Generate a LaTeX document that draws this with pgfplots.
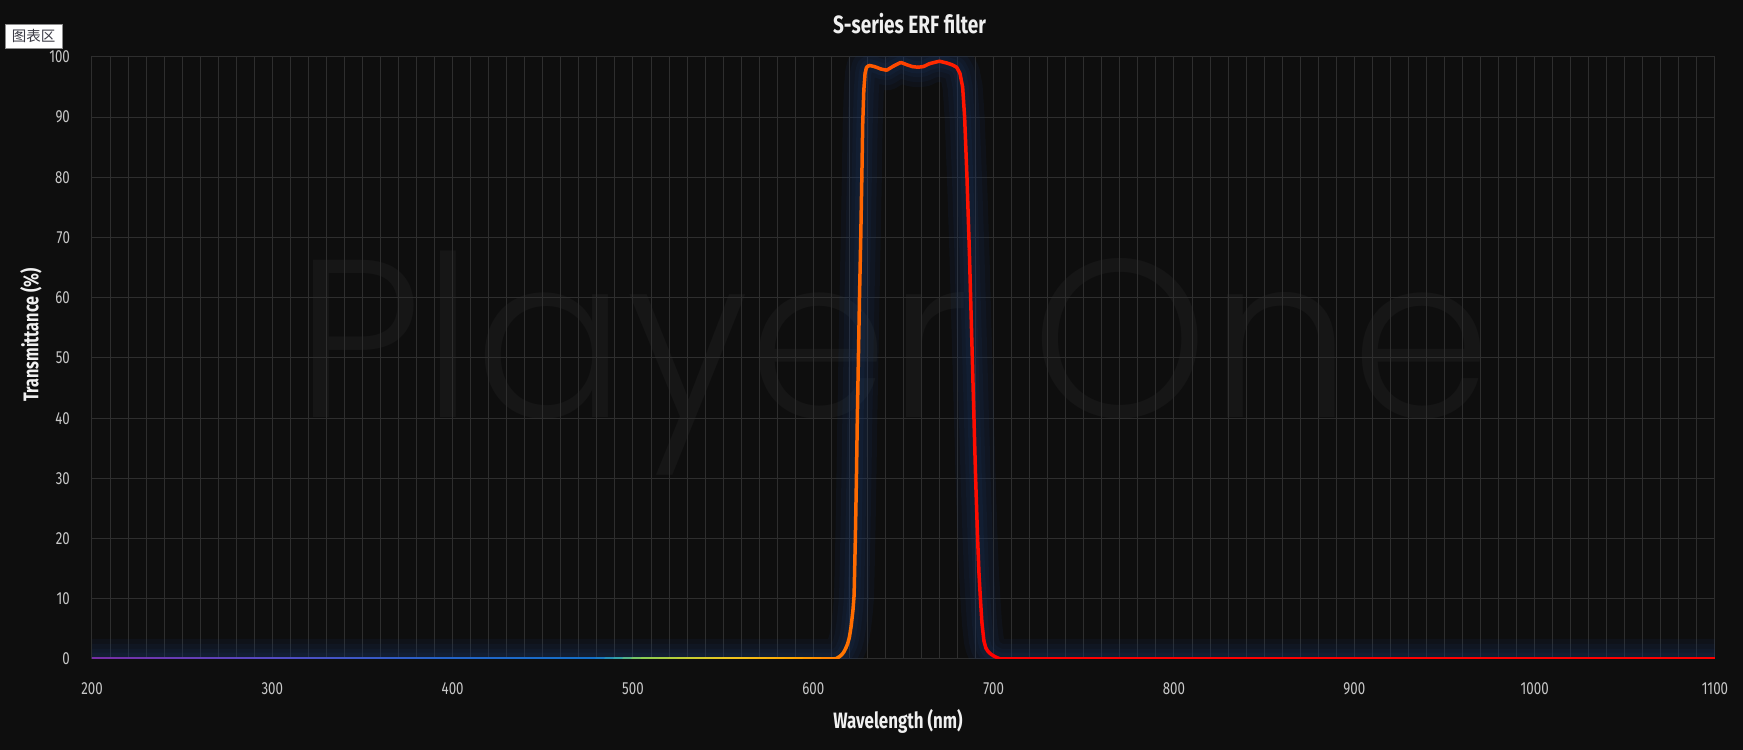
\documentclass[border=0pt]{standalone}
\usepackage{pgfplots}
\pgfplotsset{compat=1.18}
\usepackage{pgfplotstable}
\usepackage{fontspec}
\setmainfont[FakeStretch=0.76]{Fira Sans}
\newfontfamily\cjk{Noto Sans CJK SC}
\IfFontExistsTF{Poppins Light}{\newfontfamily\wmfont{Poppins Light}}{\newfontfamily\wmfont{Poppins}}
\definecolor{bg}{RGB}{14,14,14}
\definecolor{gridc}{RGB}{46,46,46}
\definecolor{tickc}{RGB}{200,200,200}
\definecolor{labc}{RGB}{240,240,240}
\definecolor{wm}{RGB}{22,22,22}
\definecolor{glow}{RGB}{25,55,105}
\definecolor{boxc}{RGB}{140,140,140}
\definecolor{boxt}{RGB}{60,60,70}

\pgfplotstableread[row sep=\\]{
x y\\
200 0\\ 205 0\\ 210 0\\ 215 0\\ 220 0\\ 225 0\\ 230 0\\ 235 0\\ 240 0\\ 245 0\\
250 0\\ 255 0\\ 260 0\\ 265 0\\ 270 0\\ 275 0\\ 280 0\\ 285 0\\ 290 0\\ 295 0\\
300 0\\ 305 0\\ 310 0\\ 315 0\\ 320 0\\ 325 0\\ 330 0\\ 335 0\\ 340 0\\ 345 0\\
350 0\\ 355 0\\ 360 0\\ 365 0\\ 370 0\\ 375 0\\ 380 0\\ 385 0\\ 390 0\\ 395 0\\
400 0\\ 405 0\\ 410 0\\ 415 0\\ 420 0\\ 425 0\\ 430 0\\ 435 0\\ 440 0\\ 445 0\\
450 0\\ 455 0\\ 460 0\\ 465 0\\ 470 0\\ 475 0\\ 480 0\\ 485 0\\ 490 0\\ 495 0\\
500 0\\ 505 0\\ 510 0\\ 515 0\\ 520 0\\ 525 0\\ 530 0\\ 535 0\\ 540 0\\ 545 0\\
550 0\\ 555 0\\ 560 0\\ 565 0\\ 570 0\\ 575 0\\ 580 0\\ 585 0\\ 590 0\\ 595 0\\
600 0\\ 605 0\\ 610 0\\ 611 0\\ 612 0.05\\ 613 0.1\\ 614 0.3\\ 615 0.5\\
616 0.8\\ 617 1.2\\ 618 1.8\\ 619 2.5\\ 620 3.6\\ 621 5.5\\ 622 8.2\\ 622.6 10.5\\
623.3 20\\ 623.9 30\\ 624.4 40\\ 625 50\\ 625.6 60\\ 626.3 70\\ 626.9 80\\ 627.4 89\\
628 94.5\\ 628.7 97.3\\ 629.5 98.3\\ 631 98.6\\ 634 98.4\\ 637.5 98.0\\ 640.7 97.8\\
644.5 98.5\\ 648.5 99.1\\ 652 98.7\\ 655 98.4\\ 658 98.3\\ 661 98.4\\ 664.5 98.9\\
669.9 99.3\\ 674 99.0\\ 677 98.7\\ 679.5 98.3\\ 681.3 97.3\\ 682.8 95\\ 683.9 90\\
685.2 80\\ 686.5 68\\ 687.7 55\\ 688.9 42\\ 690 30\\ 691.1 20\\ 691.9 14\\ 692.7 9.8\\
693.5 6\\ 694.6 3\\ 695.7 1.8\\ 697 1.2\\ 698.5 0.8\\ 700 0.5\\ 702 0.2\\ 704 0\\
710 0\\ 725 0\\ 750 0\\ 775 0\\ 800 0\\ 825 0\\ 850 0\\ 875 0\\ 900 0\\ 925 0\\
950 0\\ 975 0\\ 1000 0\\ 1025 0\\ 1050 0\\ 1075 0\\ 1100 0\\
}\spec

\begin{document}
\begin{tikzpicture}[x=1pt,y=1pt]
\useasboundingbox (0,0) rectangle (697.2,300);
\fill[bg] (0,0) rectangle (697.2,300);
\node[text=wm, font=\wmfont\fontsize{90}{90}\selectfont, anchor=base, inner sep=0pt] at (357.5,133) {Player One};
\begin{axis}[
  at={(36.8pt,36.4pt)}, anchor=south west,
  scale only axis, width=649.2pt, height=240.8pt,
  xmin=200, xmax=1100, ymin=0, ymax=100,
  xtick={200,300,...,1100}, ytick={0,10,...,100},
  minor x tick num=9,
  grid=both,
  major grid style={draw=gridc, line width=0.4pt},
  minor grid style={draw=gridc, line width=0.4pt},
  major tick length=0pt, minor tick length=0pt,
  axis line style={draw=gridc, line width=0.4pt},
  tick label style={text=tickc, font=\fontsize{7}{8}\selectfont},
  /pgf/number format/assume math mode=true,
  /pgf/number format/1000 sep={},
  xticklabel style={yshift=-6pt},
  yticklabel style={xshift=-5.3pt},
  point meta min=200, point meta max=1100,
  colormap={spec}{rgb255(200pt)=(120,45,165); rgb255(300pt)=(85,75,195); rgb255(400pt)=(35,100,200); rgb255(480pt)=(20,112,200); rgb255(492pt)=(50,160,170); rgb255(505pt)=(135,205,85); rgb255(530pt)=(195,205,50); rgb255(555pt)=(240,195,30); rgb255(590pt)=(255,165,0); rgb255(615pt)=(255,120,0); rgb255(630pt)=(255,95,0); rgb255(655pt)=(255,60,0); rgb255(680pt)=(255,25,0); rgb255(700pt)=(255,0,0); rgb255(1100pt)=(255,0,0)},
]
\addplot[glow, opacity=0.12, line width=16pt, line join=round] table[x=x,y=y] {\spec};
\addplot[glow, opacity=0.12, line width=12pt, line join=round] table[x=x,y=y] {\spec};
\addplot[glow, opacity=0.12, line width=8pt, line join=round] table[x=x,y=y] {\spec};
\addplot[glow, opacity=0.14, line width=5pt, line join=round] table[x=x,y=y] {\spec};
\addplot[mesh, point meta=x, line width=1.4pt, line cap=round, line join=round] table[x=x,y=y] {\spec};
\end{axis}
\node[font=\bfseries\fontsize{10}{12}\selectfont, text=labc] at (363.8,290.4) {S-series ERF filter};
\node[font=\bfseries\fontsize{8.5}{10}\selectfont, text=labc, rotate=90] at (12.4,166) {Transmittance (\%)};
\node[font=\bfseries\fontsize{8.9}{10}\selectfont, text=labc] at (359.2,11.6) {Wavelength (nm)};
\node[draw=boxc, fill=white, line width=0.5pt, inner sep=0pt, minimum width=22.8pt, minimum height=9.6pt, text=boxt, font=\cjk\fontsize{5.8}{6}\selectfont] at (13.5,285.5) {图表区};
\end{tikzpicture}
\end{document}
